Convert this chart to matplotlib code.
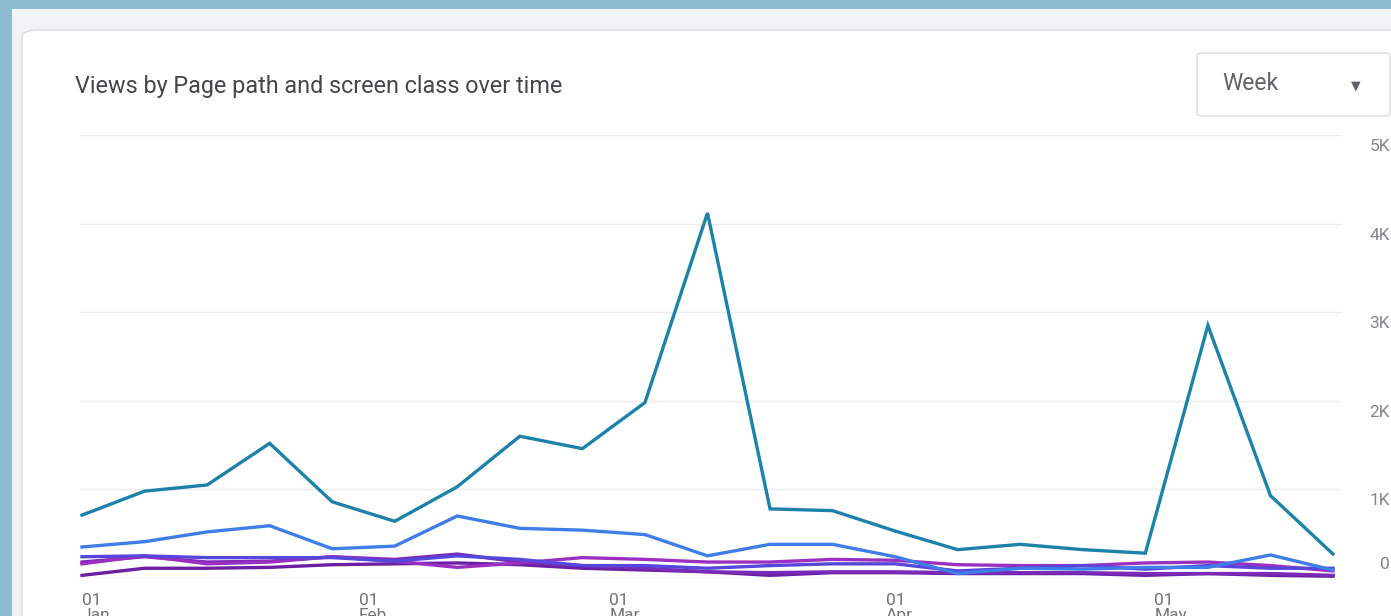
import matplotlib
matplotlib.use("Agg")
import matplotlib.pyplot as plt
from matplotlib.patches import FancyBboxPatch, Rectangle
import matplotlib.transforms as mtransforms
import pandas as pd

plt.rcParams['font.family'] = ['Roboto', 'DejaVu Sans']

# weekly data points (GA "Week" granularity)
weeks = pd.date_range("2023-01-01", periods=21, freq="7D")

# views per week for the top page paths (values in views)
page_a = [710, 980, 1050, 1520, 860, 640, 1030, 1600, 1460, 1980, 4120, 780, 760,
          530, 320, 380, 320, 280, 2850, 930, 270]
page_b = [350, 410, 520, 590, 330, 360, 700, 560, 540, 490, 250, 380, 380,
          240, 50, 110, 100, 120, 120, 260, 90]
page_c = [240, 250, 230, 230, 230, 190, 250, 210, 140, 140, 110, 140, 160,
          160, 80, 110, 140, 100, 140, 110, 110]
page_d = [160, 250, 160, 180, 240, 190, 120, 170, 230, 210, 180, 180, 210,
          200, 150, 140, 140, 170, 180, 140, 80]
page_e = [180, 240, 180, 190, 240, 210, 270, 180, 140, 110, 70, 60, 70,
          70, 60, 60, 60, 50, 50, 50, 30]
page_f = [30, 110, 110, 120, 150, 160, 170, 150, 110, 90, 70, 30, 60,
          60, 50, 50, 50, 30, 50, 30, 20]

series = [page_a, page_b, page_c, page_d, page_e, page_f]
colors = ["#1c82aa", "#3f7ee8", "#5646dc", "#9b2fc0", "#7a2ab8", "#6c1fa3"]

y_ticks = [0, 1000, 2000, 3000, 4000, 5000]
y_labels = ["0", "1K", "2K", "3K", "4K", "5K"]
month_ticks = pd.to_datetime(["2023-01-01", "2023-02-01", "2023-03-01", "2023-04-01", "2023-05-01"])
month_labels = ["01\nJan", "01\nFeb", "01\nMar", "01\nApr", "01\nMay"]

W, H = 1391, 616
fig = plt.figure(figsize=(W / 100, H / 100), dpi=100)
fig.patch.set_facecolor("#8fbbd0")


def fx(x):
    return x / W


def fy(y):
    return 1 - y / H


# background card shapes
fig.patches.append(Rectangle((fx(12), 0), 1, fy(9), transform=fig.transFigure,
                             facecolor="#f2f3f4", edgecolor="none", zorder=-3))
fig.patches.append(FancyBboxPatch((fx(22), -0.1), 1.0, fy(30) + 0.1,
                                  boxstyle="round,pad=0,rounding_size=0.012",
                                  transform=fig.transFigure, facecolor="white",
                                  edgecolor="#dadce0", linewidth=1, zorder=-2))

# title and dropdown
fig.text(fx(75), fy(86), "Views by Page path and screen class over time",
         fontsize=16.8, color="#444749", va="center", ha="left")
fig.patches.append(FancyBboxPatch((fx(1197), fy(116)), fx(1390) - fx(1197), fy(53) - fy(116),
                                  boxstyle="round,pad=0,rounding_size=0.004",
                                  transform=fig.transFigure, facecolor="white",
                                  edgecolor="#dadce0", linewidth=1, zorder=-1))
fig.text(fx(1222), fy(84), "Week", fontsize=16.5, color="#5f6368", va="center", ha="left")
fig.text(fx(1356), fy(86), "\u25BC", fontsize=9, color="#5f6368", va="center", ha="center",
         family=["DejaVu Sans"])

# plot area: x from 80px to 1342px, y from 135px (5K) to 578px (0)
ax = fig.add_axes([fx(80), fy(578), fx(1342) - fx(80), fy(135) - fy(578)])
ax.set_zorder(2)
ax.set_facecolor("none")
px_per_day = 62.55 / 7
ax.set_xlim(weeks[0] - pd.Timedelta(days=2 / px_per_day),
            weeks[-1] + pd.Timedelta(days=9 / px_per_day))
ax.set_ylim(0, 5000)

for yv in y_ticks:
    ax.axhline(yv, color="#dadce0" if yv == 0 else "#ebedef", lw=1, zorder=1)

for vals, c in zip(series[::-1], colors[::-1]):
    ax.plot(weeks, vals, color=c, lw=2.4, solid_joinstyle="miter", zorder=3, clip_on=False)

for s in ax.spines.values():
    s.set_visible(False)
ax.set_yticks([])
ax.set_xticks(month_ticks)
ax.set_xticklabels(month_labels)
ax.tick_params(axis="x", length=0, pad=11, labelsize=12.5, labelcolor="#70757a")
for lbl in ax.get_xticklabels():
    lbl.set_horizontalalignment("left")
    lbl.set_linespacing(0.95)

# y labels to the right, GA style
trans = mtransforms.blended_transform_factory(fig.transFigure, ax.transData)
for yv, lab in zip(y_ticks, y_labels):
    off = 6 if yv == 0 else -4
    t = ax.text(fx(1390), yv, lab, ha="right",
                va="bottom" if yv == 0 else "top", fontsize=12.5, color="#80868b")
    t.set_transform(trans + mtransforms.ScaledTranslation(0, off / 100, fig.dpi_scale_trans))

fig.savefig("out.png", dpi=100, facecolor=fig.get_facecolor())
